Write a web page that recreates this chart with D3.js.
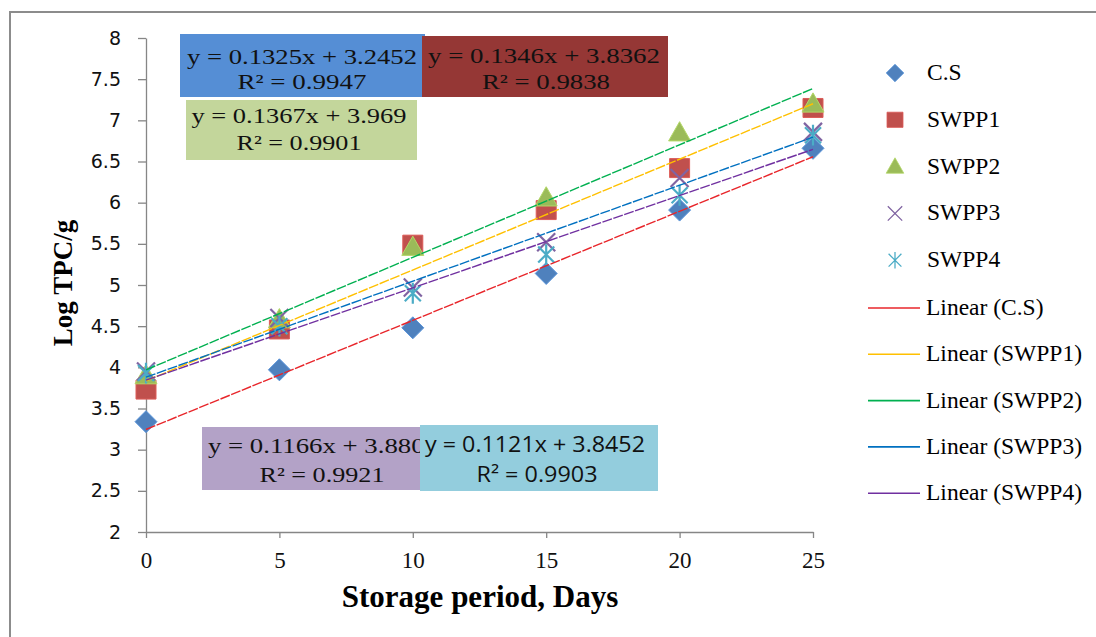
<!DOCTYPE html>
<html>
<head>
<meta charset="utf-8">
<script src="https://cdn.jsdelivr.net/npm/d3@7"></script>
<style>
  body { margin: 0; background: #fff; }
  svg { display: block; }
</style>
</head>
<body>
<div id="chart"></div>
<script>
// values
const days = [0, 5, 10, 15, 20, 25]
const seriesNames = ["C.S", "SWPP1", "SWPP2", "SWPP3", "SWPP4"]
const csVals    = [3.34, 3.97, 4.48, 5.14, 5.91, 6.66]
const swpp1Vals = [3.73, 4.46, 5.49, 5.91, 6.42, 7.15]
const swpp2Vals = [3.90, 4.58, 5.46, 6.06, 6.85, 7.20]
const swpp3Vals = [3.95, 4.60, 4.97, 5.52, 6.30, 6.86]
const swpp4Vals = [3.93, 4.50, 4.90, 5.37, 6.09, 6.82]
// trendline equations as printed on the chart
const slopes     = [0.1325, 0.1346, 0.1367, 0.1166, 0.1121]
const intercepts = [3.2452, 3.8362, 3.969, 3.880, 3.8452]
const eqTexts = ["y = 0.1325x + 3.2452", "y = 0.1346x + 3.8362", "y = 0.1367x + 3.969",
                 "y = 0.1166x + 3.8803", "y = 0.1121x + 3.8452"]
const r2Texts = ["R² = 0.9947", "R² = 0.9838", "R² = 0.9901", "R² = 0.9921", "R² = 0.9903"]
const yTicks = [2, 2.5, 3, 3.5, 4, 4.5, 5, 5.5, 6, 6.5, 7, 7.5, 8]
const xTicks = [0, 5, 10, 15, 20, 25]

const allVals = [csVals, swpp1Vals, swpp2Vals, swpp3Vals, swpp4Vals]

const w = 1096
const h = 637
const serif = "'Liberation Serif', 'Times New Roman', serif"
const markerColors = ["#4F81BD", "#C0504D", "#9BBB59", "#8064A2", "#4BACC6"]
const lineColors = ["#E8262B", "#FFC000", "#00B050", "#0070C0", "#7030A0"]

const svg = d3.select("#chart")
  .append("svg")
  .attr("width", w)
  .attr("height", h)

// outer frame (left + top only visible)
svg.append("path")
  .attr("d", `M10,${h} L10,12 L${w},12`)
  .attr("fill", "none")
  .attr("stroke", "#8c8c8c")
  .attr("stroke-width", 2)

const xScale = d3.scaleLinear().domain([0, 25]).range([146, 813])
const yScale = d3.scaleLinear().domain([2, 8]).range([532, 38])

const yAxis = d3.axisLeft(yScale)
  .tickValues(yTicks)
  .tickFormat(d => String(d))
  .tickSize(8)
  .tickSizeOuter(0)
  .tickPadding(17)

const xAxis = d3.axisBottom(xScale)
  .tickValues(xTicks)
  .tickSize(6)
  .tickSizeOuter(0)
  .tickPadding(14)

const gy = svg.append("g")
  .attr("transform", "translate(146,0)")
  .call(yAxis)
gy.selectAll("text")
  .attr("font-family", "'DejaVu Sans', sans-serif")
  .attr("font-size", 19)
  .attr("fill", "#111")

const gx = svg.append("g")
  .attr("transform", "translate(0,532)")
  .call(xAxis)
gx.selectAll("text")
  .attr("font-family", serif)
  .attr("font-size", 23)
  .attr("fill", "#111")

svg.selectAll(".domain, .tick line")
  .attr("stroke", "#868686")
  .attr("stroke-width", 1.3)

// axis titles
svg.append("text")
  .attr("transform", "translate(72,283) rotate(-90)")
  .attr("text-anchor", "middle")
  .attr("font-family", serif)
  .attr("font-weight", "bold")
  .attr("font-size", 27)
  .text("Log TPC/g")

svg.append("text")
  .attr("x", 480)
  .attr("y", 607)
  .attr("text-anchor", "middle")
  .attr("font-family", serif)
  .attr("font-weight", "bold")
  .attr("font-size", 31)
  .text("Storage period, Days")

// marker shapes
function markerPath(i) {
  const p = d3.path()
  if (i === 0) {        // diamond
    const r = 11
    p.moveTo(0, -r); p.lineTo(r, 0); p.lineTo(0, r); p.lineTo(-r, 0); p.closePath()
  } else if (i === 1) { // square
    const r = 10
    p.rect(-r, -r * 0.95, 2 * r, 2 * r * 0.95)
  } else if (i === 2) { // triangle
    const r = 11
    p.moveTo(0, -r); p.lineTo(r, r * 0.75); p.lineTo(-r, r * 0.75); p.closePath()
  } else if (i === 3) { // x
    const r = 9
    p.moveTo(-r, -r); p.lineTo(r, r); p.moveTo(r, -r); p.lineTo(-r, r)
  } else {              // asterisk
    const r = 8
    p.moveTo(-r, -r); p.lineTo(r, r); p.moveTo(r, -r); p.lineTo(-r, r)
    p.moveTo(0, -r * 1.3); p.lineTo(0, r * 1.3)
  }
  return p.toString()
}

function styleMarker(sel, i) {
  if (i < 3) {
    sel.attr("fill", markerColors[i])
      .attr("stroke", d3.color(markerColors[i]).brighter(0.4))
      .attr("stroke-width", 1)
  } else {
    sel.attr("fill", "none")
      .attr("stroke", markerColors[i])
      .attr("stroke-width", 2.2)
  }
}

allVals.forEach((vals, i) => {
  const g = svg.append("g").attr("class", "series-" + i)
  g.selectAll("path")
    .data(vals)
    .enter()
    .append("path")
    .attr("d", markerPath(i))
    .attr("transform", (d, j) => `translate(${xScale(days[j])},${yScale(d)})`)
    .call(styleMarker, i)
})

// trendlines
const line = d3.line().x(d => xScale(d[0])).y(d => yScale(d[1]))
slopes.forEach((m, i) => {
  const pts = [0, 25].map(x => [x, m * x + intercepts[i]])
  svg.append("path")
    .attr("d", line(pts))
    .attr("fill", "none")
    .attr("stroke", lineColors[i])
    .attr("stroke-width", 1.4)
    .attr("stroke-dasharray", "10,1.5")
})

// legend
seriesNames.forEach((name, i) => {
  const y = 73 + i * 46.8
  svg.append("path")
    .attr("d", markerPath(i))
    .attr("transform", `translate(895,${y}) scale(0.8)`)
    .call(styleMarker, i)
    .attr("stroke-width", i < 3 ? 1 : 1.6)
  svg.append("text")
    .attr("x", 927).attr("y", y + 7)
    .attr("font-family", serif).attr("font-size", 23.5)
    .text(name)
})
seriesNames.forEach((name, i) => {
  const y = 308 + i * 46.3
  svg.append("line")
    .attr("x1", 868).attr("x2", 920)
    .attr("y1", y).attr("y2", y)
    .attr("stroke", lineColors[i])
    .attr("stroke-width", 1.6)
  svg.append("text")
    .attr("x", 926).attr("y", y + 7)
    .attr("font-family", serif).attr("font-size", 23.5)
    .text(`Linear (${name})`)
})

// equation boxes, drawn in Excel's stacking order
const sans = "'Open Sans', 'Liberation Sans', sans-serif"
const boxes = [
  { i: 0, x: 180, y: 34, bw: 245, bh: 63, fill: "#558ED5", c1: 302, c2: 302, l1: 230, l2: 129, b1: 64, b2: 89, font: serif, fs: 22 },
  { i: 1, x: 422, y: 36, bw: 246, bh: 61, fill: "#953735", c1: 544, c2: 546, l1: 232, l2: 128, b1: 63, b2: 89, font: serif, fs: 22 },
  { i: 2, x: 186, y: 100, bw: 231, bh: 60, fill: "#C3D69B", c1: 299, c2: 299, l1: 215, l2: 125, b1: 123, b2: 150, font: serif, fs: 22 },
  { i: 3, x: 202, y: 427, bw: 218, bh: 63, fill: "#B3A2C7", c1: 323, c2: 322, l1: 230, l2: 125, b1: 453, b2: 482, font: serif, fs: 22 },
  { i: 4, x: 420, y: 425, bw: 238, bh: 66, fill: "#93CDDD", c1: 535, c2: 537, l1: 220, l2: 121, b1: 452, b2: 482, font: sans, fs: 21 }
]
boxes.forEach(b => {
  const g = svg.append("g")
  g.append("rect")
    .attr("x", b.x).attr("y", b.y)
    .attr("width", b.bw).attr("height", b.bh)
    .attr("fill", b.fill)
  g.append("text")
    .attr("x", b.c1).attr("y", b.b1)
    .attr("text-anchor", "middle")
    .attr("font-family", b.font).attr("font-size", b.fs)
    .attr("textLength", b.l1).attr("lengthAdjust", "spacingAndGlyphs")
    .attr("fill", "#111")
    .text(eqTexts[b.i])
  g.append("text")
    .attr("x", b.c2).attr("y", b.b2)
    .attr("text-anchor", "middle")
    .attr("font-family", b.font).attr("font-size", b.fs)
    .attr("textLength", b.l2).attr("lengthAdjust", "spacingAndGlyphs")
    .attr("fill", "#111")
    .text(r2Texts[b.i])
})
</script>
</body>
</html>
